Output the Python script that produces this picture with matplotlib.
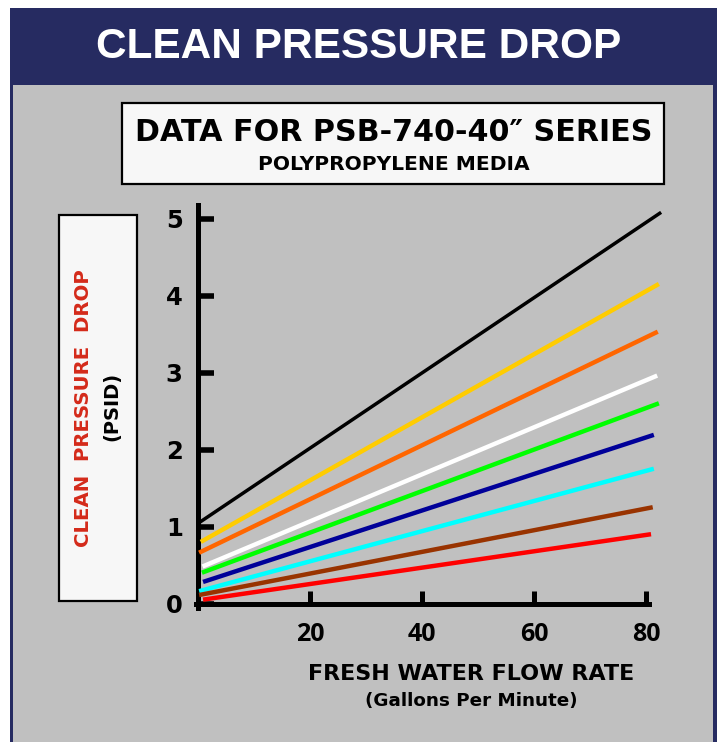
import matplotlib
matplotlib.use("Agg")
import matplotlib.pyplot as plt
from matplotlib.patches import Rectangle

# ---- data ----
series_names = ["black", "yellow", "orange", "white", "green", "blue", "cyan", "brown", "red"]
series_colors = ["#000000", "#ffcc00", "#ff6600", "#ffffff", "#00ff00", "#000099", "#00ffff", "#993300", "#ff0000"]
flow_start = [0.2, 0.5, 0.2, 0.8, 0.7, 0.9, 0.2, 0.2, 0.9]
flow_end = [82.7, 82.3, 82.1, 82.0, 82.3, 81.4, 81.4, 81.2, 80.9]
drop_start = [1.05, 0.80, 0.66, 0.48, 0.40, 0.28, 0.16, 0.11, 0.05]
drop_end = [5.08, 4.15, 3.53, 2.96, 2.60, 2.19, 1.75, 1.25, 0.90]
x_ticks = [20, 40, 60, 80]
y_ticks = [0, 1, 2, 3, 4, 5]

W, H = 719, 742
fig = plt.figure(figsize=(W / 100, H / 100), dpi=100)
fig.patch.set_facecolor("white")

def fx(x):
    return x / W

def fy(y):
    return 1 - y / H

def rect(x0, y0, x1, y1, **kw):
    r = Rectangle((fx(x0), fy(y1)), (x1 - x0) / W, (y1 - y0) / H,
                  transform=fig.transFigure, zorder=-5, **kw)
    fig.patches.append(r)

NAVY = "#262b61"
GREY = "#c0c0c0"
rect(10, 8, 717, 742, facecolor=NAVY, edgecolor="none")
rect(13, 85, 713, 742, facecolor=GREY, edgecolor="none")
rect(122, 103, 664, 184, facecolor="#f7f7f7", edgecolor="black", linewidth=1.6)
rect(59, 215, 137, 601, facecolor="#f7f7f7", edgecolor="black", linewidth=1.6)

FONT = "DejaVu Sans"
fig.text(fx(358.5), fy(47), "CLEAN PRESSURE DROP", color="white", fontsize=30.5,
         fontweight="bold", family="Liberation Sans", ha="center", va="center")
fig.text(fx(393.5), fy(132.5), "DATA FOR PSB-740-40\u2033 SERIES", color="black", fontsize=21.7,
         fontweight="bold", family=FONT, ha="center", va="center")
fig.text(fx(394), fy(164), "POLYPROPYLENE MEDIA", color="black", fontsize=14.6,
         fontweight="bold", family=FONT, ha="center", va="center")

fig.text(fx(84), fy(408.5), "CLEAN  PRESSURE  DROP", color="#d42a1a", fontsize=14.2,
         fontweight="bold", family=FONT, ha="center", va="center", rotation=90)
fig.text(fx(112), fy(406), "(PSID)", color="black", fontsize=14,
         fontweight="bold", family=FONT, ha="center", va="center", rotation=90)

fig.text(fx(471.5), fy(673.5), "FRESH WATER FLOW RATE", color="black", fontsize=16,
         fontweight="bold", family=FONT, ha="center", va="center")
fig.text(fx(471.5), fy(701), "(Gallons Per Minute)", color="black", fontsize=13.2,
         fontweight="bold", family=FONT, ha="center", va="center")

# ---- axes ----
ax = fig.add_axes([198 / W, 138.5 / H, 470.4 / W, 400.4 / H])
ax.set_facecolor("none")
ax.set_xlim(0, 84)
ax.set_ylim(0, 5.2)
for s in ["top", "right"]:
    ax.spines[s].set_visible(False)
for s in ["left", "bottom"]:
    ax.spines[s].set_linewidth(3.6)
    ax.spines[s].set_color("black")
ax.spines["left"].set_bounds(-0.06, 5.17)
ax.spines["bottom"].set_bounds(-0.3, 80.5)

ax.set_xticks(x_ticks)
ax.set_xticklabels([str(v) for v in x_ticks], fontsize=18, fontweight="bold", family="Open Sans")
ax.set_yticks(y_ticks)
ax.set_yticklabels([str(v) for v in y_ticks], fontsize=17.5, fontweight="bold", family="DejaVu Sans")
ax.tick_params(axis="x", direction="in", length=9.4, width=3.6, pad=13)
ax.tick_params(axis="y", direction="in", length=11.5, width=4.0, pad=11)

for name, c, xs, xe, ys, ye in zip(series_names, series_colors, flow_start, flow_end, drop_start, drop_end):
    lw = 2.5 if name == "black" else 3.2
    ax.plot([xs, xe], [ys, ye], color=c, linewidth=lw, clip_on=False, solid_capstyle="butt", zorder=3)

fig.savefig("out.png", dpi=100, facecolor=fig.get_facecolor())
